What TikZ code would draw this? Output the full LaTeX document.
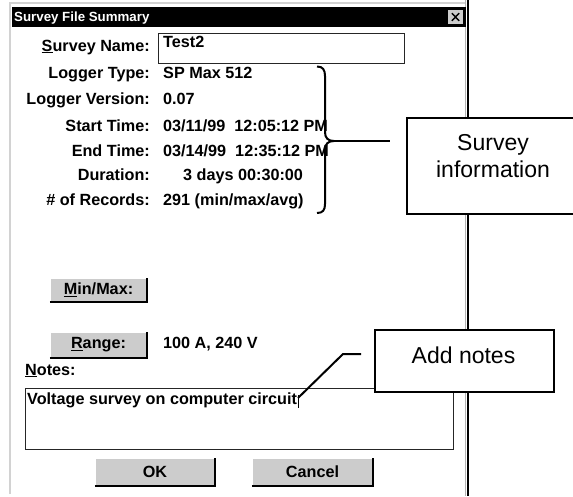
\documentclass[tikz,border=0pt]{standalone}
\usepackage{fontspec}
\setmainfont{Liberation Sans}
\begin{document}
\begin{tikzpicture}[x=1pt,y=-1pt,
  dlg/.style={font=\fontsize{16.2}{18}\selectfont\bfseries, inner sep=0pt},
  lbl/.style={dlg, anchor=base east},
  val/.style={dlg, anchor=base west},
  btnbox/.style={dlg, fill=gray!40, inner sep=0pt},
  callbox/.style={draw=black, fill=white, line width=2.2, inner sep=0pt},
  calltext/.style={font=\fontsize{23}{26}\selectfont, inner sep=0pt, anchor=base},
  lead/.style={draw=black, line width=2},
  field/.style={draw=black!85, line width=1, inner sep=0pt}]
\useasboundingbox (0,0) rectangle (573,496);
\clip (0,0) rectangle (573,496);
\fill[white] (0,0) rectangle (573,496);

% dialog frame
\draw[gray!35, line width=1.2] (10,494) -- (10,3) -- (466,3);
\draw[gray!60, line width=1] (465.8,0) -- (465.8,496);
\draw[black, line width=2] (468,0) -- (468,496);

% title bar
\node[fill=black, minimum width=454, minimum height=20, inner sep=0pt, anchor=north west] (titlebar) at (12,7) {};
\node[anchor=base west, inner sep=0pt, text=white, font=\fontsize{13.3}{15}\selectfont\bfseries] (title) at (14,21.5) {Survey File Summary};
\node[fill=gray!40, minimum width=15, minimum height=14, inner sep=0pt] (close) at (455.5,17) {};
\draw[line width=1.4] (451.8,13.2) -- (459.2,20.8) (451.8,20.8) -- (459.2,13.2);
\draw[black, line width=1] (close.south west) -| (close.north east);

% survey name
\node[lbl] (snlbl) at (150,51) {\underline{S}urvey Name:};
\node[field, minimum width=246, minimum height=30, anchor=north west] (snfield) at (158,33) {};
\node[val] (snval) at (163,47) {Test2};

% info rows
\node[lbl] (ltlbl) at (150,78) {Logger Type:};
\node[val] (ltval) at (163,78) {SP Max 512};
\node[lbl] (lvlbl) at (150,104) {Logger Version:};
\node[val] (lvval) at (163,104) {0.07};
\node[lbl] (stlbl) at (150,131) {Start Time:};
\node[val] (stval) at (163,131) {03/11/99\ \ 12:05:12 PM};
\node[lbl] (etlbl) at (150,156) {End Time:};
\node[val] (etval) at (163,156) {03/14/99\ \ 12:35:12 PM};
\node[lbl] (dulbl) at (150,180) {Duration:};
\node[val] (duval) at (183,180) {3 days 00:30:00};
\node[lbl] (nrlbl) at (150,205) {\# of Records:};
\node[val] (nrval) at (163,205) {291 (min/max/avg)};

% buttons
\node[btnbox, minimum width=97, minimum height=24] (minmax) at (98.5,290) {\underline{M}in/Max:};
\draw[white, line width=1.5] (minmax.south west) |- (minmax.north east);
\draw[black, line width=2] (minmax.south west) -| (minmax.north east);
\node[btnbox, minimum width=97, minimum height=26] (range) at (98.5,345) {\underline{R}ange:};
\draw[white, line width=1.5] (range.south west) |- (range.north east);
\draw[black, line width=2] (range.south west) -| (range.north east);
\node[val] (rangeval) at (163,348) {100 A, 240 V};

% notes
\node[val] (noteslbl) at (25,375) {\underline{N}otes:};
\node[field, minimum width=428, minimum height=61, anchor=north west] (notesbox) at (25,388) {};
\node[val] (notestext) at (27,404) {Voltage survey on computer circuit};
\draw[line width=1] (298.5,395) -- (298.5,408);

\node[btnbox, minimum width=120, minimum height=28] (ok) at (155,472) {OK};
\draw[white, line width=1.5] (ok.south west) |- (ok.north east);
\draw[black, line width=2] (ok.south west) -| (ok.north east);
\node[btnbox, minimum width=121, minimum height=28] (cancel) at (312.5,472) {Cancel};
\draw[white, line width=1.5] (cancel.south west) |- (cancel.north east);
\draw[black, line width=2] (cancel.south west) -| (cancel.north east);

% brace and survey information callout
\draw[lead] (317,66.5) .. controls (323,66.5) and (325,70) .. (325,76) -- (325,132)
  .. controls (325,138) and (328,141) .. (334,141)
  .. controls (328,141) and (325,144) .. (325,150) -- (325,204)
  .. controls (325,210) and (323,213) .. (317,213);
\coordinate (cusp) at (334,141);
\coordinate (infoend) at (390,141);
\draw[lead] (cusp) -- (infoend);
\node[callbox, minimum width=172, minimum height=96, anchor=north west] (infobox) at (406,117) {};
\node[calltext] (infot1) at (493,150.5) {Survey};
\node[calltext] (infot2) at (493,177) {information};

% add notes callout
\node[callbox, minimum width=179, minimum height=62, anchor=north west] (notescall) at (374,329) {};
\node[calltext] (notescallt) at (463.5,363) {Add notes};
\coordinate (nstub) at (361,354);
\coordinate (nbend) at (343,354);
\coordinate (ncursor) at (298,398);
\draw[lead] (nstub) -- (nbend) -- (ncursor);
\end{tikzpicture}
\end{document}
